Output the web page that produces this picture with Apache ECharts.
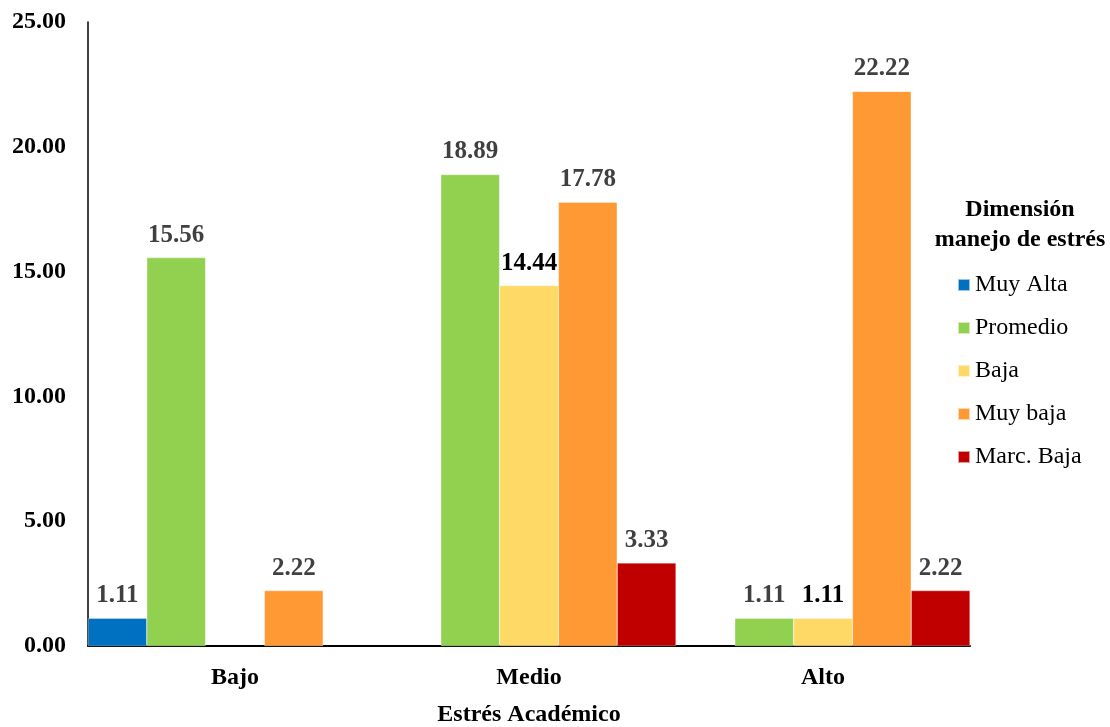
<!DOCTYPE html>
<html>
<head>
<meta charset="utf-8">
<script src="https://cdn.jsdelivr.net/npm/echarts@6/dist/echarts.min.js"></script>
<style>
  html, body { margin: 0; padding: 0; background: #fff; }
  #chart { width: 1110px; height: 727px; }
</style>
</head>
<body>
<div id="chart"></div>
<script>
// Stress level groups on the x axis
const categories = ['Bajo', 'Medio', 'Alto'];

// Percentages for each stress-management level (null = no bar)
const muyAlta   = [1.11, null, null];
const promedio  = [15.56, 18.89, 1.11];
const baja      = [null, 14.44, 1.11];
const muyBaja   = [2.22, 17.78, 22.22];
const marcBaja  = [null, 3.33, 2.22];

const yTicks = { min: 0, max: 25, interval: 5 };

const FONT = '"Liberation Serif", "Times New Roman", serif';

const seriesDefs = [
  { name: 'Muy Alta',   data: muyAlta,  color: '#0070C0', labelColor: '#404040' },
  { name: 'Promedio',   data: promedio, color: '#92D050', labelColor: '#404040' },
  { name: 'Baja',       data: baja,     color: '#FFD966', labelColor: '#000000' },
  { name: 'Muy baja',   data: muyBaja,  color: '#FF9933', labelColor: '#404040' },
  { name: 'Marc. Baja', data: marcBaja, color: '#C00000', labelColor: '#404040' }
];

const chart = echarts.init(document.getElementById('chart'), null, { renderer: 'canvas' });

chart.setOption({
  animation: false,
  backgroundColor: '#ffffff',
  textStyle: { fontFamily: FONT },
  grid: { left: 88, right: 140, top: 22, bottom: 81, containLabel: false, outerBoundsMode: 'none' },
  title: {
    text: 'Dimensión\nmanejo de estrés',
    left: 1015,
    top: 190,
    textAlign: 'center',
    textStyle: {
      fontFamily: FONT, fontWeight: 'bold', fontSize: 24,
      lineHeight: 30, color: '#000'
    }
  },
  legend: {
    orient: 'vertical',
    left: 952,
    top: 268,
    itemWidth: 12,
    itemHeight: 12,
    itemGap: 19,
    icon: 'rect',
    textStyle: { fontFamily: FONT, fontSize: 24, color: '#000' },
    data: seriesDefs.map(s => s.name)
  },
  xAxis: {
    type: 'category',
    data: categories,
    name: 'Estrés Académico',
    nameLocation: 'middle',
    nameGap: 57,
    nameTextStyle: { fontFamily: FONT, fontWeight: 'bold', fontSize: 24, color: '#000' },
    axisLine: { lineStyle: { color: '#000', width: 2 } },
    axisTick: { show: false },
    axisLabel: { fontFamily: FONT, fontWeight: 'bold', fontSize: 24, color: '#000', margin: 20 }
  },
  yAxis: {
    type: 'value',
    min: yTicks.min,
    max: yTicks.max,
    interval: yTicks.interval,
    axisLine: { show: true, lineStyle: { color: '#000', width: 1.5 } },
    axisTick: { show: false },
    splitLine: { show: false },
    axisLabel: {
      fontFamily: FONT, fontWeight: 'bold', fontSize: 24, color: '#000', margin: 22,
      formatter: v => v.toFixed(2)
    }
  },
  series: seriesDefs.map(s => ({
    name: s.name,
    type: 'bar',
    data: s.data,
    barGap: '0%',
    barCategoryGap: '0%',
    itemStyle: { color: s.color, borderColor: 'rgba(255,255,255,0.6)', borderWidth: 0.5 },
    label: {
      show: true,
      position: 'top',
      distance: 10,
      fontFamily: FONT,
      fontWeight: 'bold',
      fontSize: 25,
      color: s.labelColor,
      formatter: p => (p.value == null ? '' : Number(p.value).toFixed(2))
    }
  }))
});
</script>
</body>
</html>
